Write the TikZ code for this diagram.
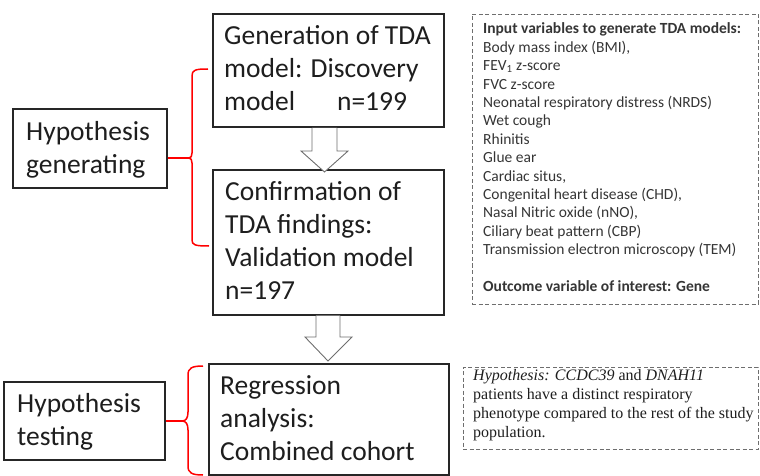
\documentclass[tikz,border=0pt]{standalone}
\usepackage{fontspec}
\setmainfont{Carlito}
\newfontfamily\timesfont{Liberation Serif}
\definecolor{boxline}{HTML}{262626}
\definecolor{arrline}{HTML}{6E6E6E}
\definecolor{txt}{HTML}{1E1E1E}
\definecolor{bracered}{HTML}{FF0000}
\begin{document}
\begin{tikzpicture}[x=1pt,y=-1pt,
  box/.style={draw=boxline, line width=1.1pt, rectangle, inner sep=0pt, fill=white},
  dbox/.style={draw=arrline, line width=0.8pt, dashed, dash pattern=on 4pt off 2.5pt, rectangle, inner sep=0pt},
  bigtext/.style={anchor=base west, inner sep=0pt, text=txt, font=\fontsize{27.5}{33}\selectfont},
  smalltext/.style={anchor=base west, inner sep=0pt, text=txt!90, font=\fontsize{15.5}{18.4}\selectfont},
  serftext/.style={anchor=base west, inner sep=0pt, text=txt, font=\timesfont\fontsize{16}{19}\selectfont},
  blockarrow/.style={draw=arrline, line width=0.9pt, fill=white, line join=miter},
  brace/.style={draw=bracered, line width=1.5pt}
]
\useasboundingbox (0,0) rectangle (760,476);

% main boxes
\node[box, minimum width=231pt, minimum height=113pt] (gen) at (328.5,70.5) {};
\node[box, minimum width=231pt, minimum height=145pt] (conf) at (328.5,242.5) {};
\node[box, minimum width=240pt, minimum height=111pt] (reg) at (329,419.5) {};
\node[box, minimum width=154pt, minimum height=79pt] (hgen) at (90,148.5) {};
\node[box, minimum width=161pt, minimum height=78pt] (htest) at (84.5,421) {};
\node[dbox, minimum width=286pt, minimum height=290pt] (inputs) at (615,159) {};
\node[dbox, minimum width=295pt, minimum height=82pt] (hypo) at (610.5,408) {};

% texts
\node[bigtext] (gentext) at (224,45) {\parbox[t]{220pt}{Generation of TDA\\model: Discovery\\model\hspace{42pt}n=199}};
\node[bigtext] (conftext) at (225,200) {\parbox[t]{220pt}{Confirmation of\\TDA findings:\\Validation model\\n=197}};
\node[bigtext] (regtext) at (220,394) {\parbox[t]{225pt}{Regression\\analysis:\\Combined cohort}};
\node[bigtext] (hgentext) at (26,140) {\parbox[t]{140pt}{Hypothesis\\generating}};
\node[bigtext] (htesttext) at (17,412) {\parbox[t]{140pt}{Hypothesis\\testing}};
\node[smalltext] (inputtext) at (483,34) {\parbox[t]{270pt}{\textbf{Input variables to generate TDA models:}\\
Body mass index (BMI),\\
FEV\textsubscript{1} z-score\\
FVC z-score\\
Neonatal respiratory distress (NRDS)\\
Wet cough\\
Rhinitis\\
Glue ear\\
Cardiac situs,\\
Congenital heart disease (CHD),\\
Nasal Nitric oxide (nNO),\\
Ciliary beat pattern (CBP)\\
Transmission electron microscopy (TEM)\\[18.4pt]
\textbf{Outcome variable of interest: Gene}}};
\node[serftext] (hypotext) at (473,380) {\parbox[t]{285pt}{\textit{Hypothesis: CCDC39} and \textit{DNAH11}\\
patients have a distinct respiratory\\
phenotype compared to the rest of the study\\
population.}};

% block arrows
\draw[blockarrow] (312,128) -- (312,151) -- (301,151) -- (324.5,172) -- (348,151) -- (337,151) -- (337,128);
\draw[blockarrow] (316,315.5) -- (316,337) -- (305,337) -- (328,361) -- (352,337) -- (340,337) -- (340,315.5);

% brackets
\coordinate (b1top) at (208,69);
\coordinate (b1bot) at (209,246);
\coordinate (b1tip) at (189,158);
\draw[brace] (b1top) .. controls (195,69) and (192,70) .. (192,76) -- (192,153)
  .. controls (192,156) and (191,158) .. (b1tip)
  .. controls (191,158) and (192,160) .. (192,163) -- (192,240)
  .. controls (192,245) and (195,246) .. (b1bot);
\draw[brace] (hgen.east |- b1tip) -- (b1tip);

\coordinate (b2top) at (203,366);
\coordinate (b2bot) at (203,475);
\coordinate (b2tip) at (182,421);
\draw[brace] (b2top) .. controls (192,366) and (188,368) .. (188,375) -- (188,412)
  .. controls (188,418) and (186,421) .. (b2tip)
  .. controls (186,421) and (188,424) .. (188,430) -- (188,466)
  .. controls (188,473) and (192,475) .. (b2bot);
\draw[brace] (htest.east) -- (b2tip);
\end{tikzpicture}
\end{document}
